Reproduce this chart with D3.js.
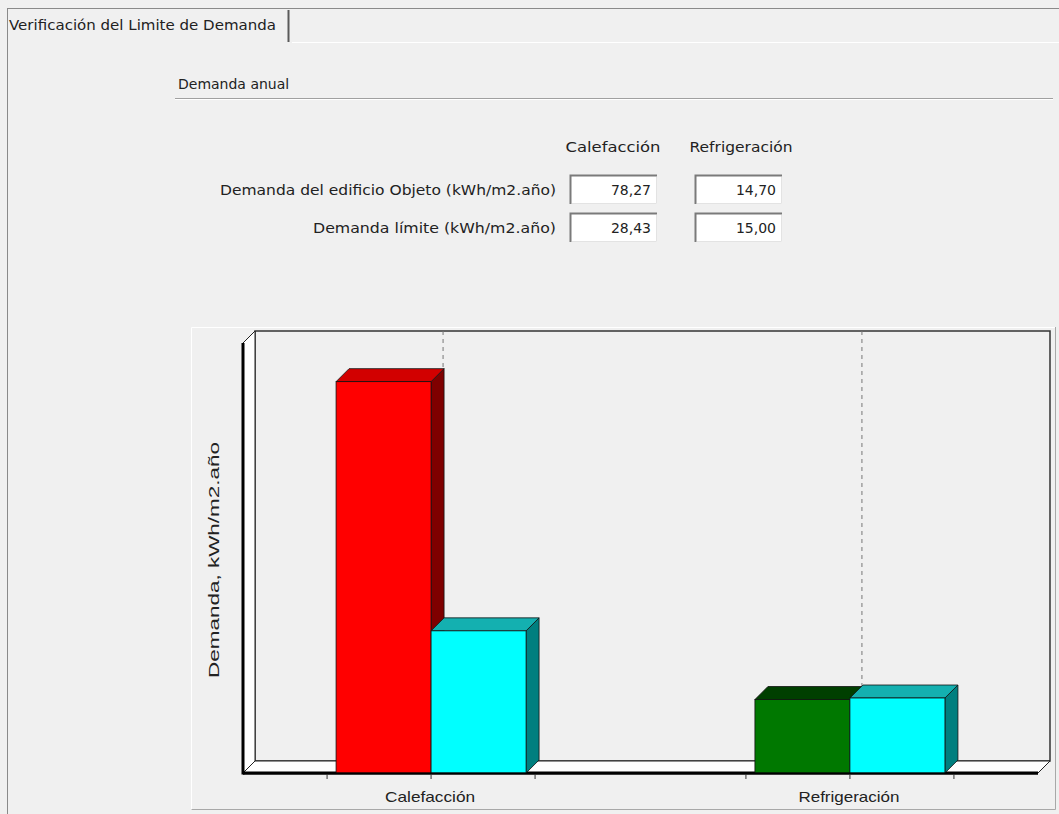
<!DOCTYPE html>
<html>
<head>
<meta charset="utf-8">
<script src="https://cdn.jsdelivr.net/npm/d3@7"></script>
<style>
  html, body { margin: 0; padding: 0; background: #f0f0f0; }
  svg { display: block; }
</style>
</head>
<body>
<svg id="chart" width="1059" height="814"></svg>
<script>
// ---------------- data ----------------
const categories = ["Calefacción", "Refrigeración"];
const demandaObjeto = [78.27, 14.70];
const demandaLimite = [28.43, 15.00];
const rowLabels = ["Demanda del edificio Objeto (kWh/m2.año)", "Demanda límite (kWh/m2.año)"];
const tabTitle = "Verificación del Limite de Demanda";
const groupTitle = "Demanda anual";
const yAxisTitle = "Demanda, kWh/m2.año";
const yDomain = [0, 86];

// ---------------- styles ----------------
const objetoFront = ["#ff0000", "#007800"];
const objetoTop = ["#d20000", "#003f00"];
const objetoSide = ["#7f0000", "#003f00"];
const limiteFront = "#00ffff";
const limiteTop = "#14b0b0";
const limiteSide = "#007f7f";
const uiFont = "'DejaVu Sans', Tahoma, sans-serif";
const chartFont = "'Liberation Sans', Arial, sans-serif";

const locale = d3.formatLocale({decimal: ",", thousands: ".", grouping: [3], currency: ["", "€"]});
const fmt = locale.format(".2f");

const svg = d3.select("#chart");
svg.append("rect").attr("width", 1059).attr("height", 814).attr("fill", "#f0f0f0");

// ---------------- window chrome: tab ----------------
svg.append("line").attr("x1", 7).attr("x2", 1059).attr("y1", 8.5).attr("y2", 8.5).attr("stroke", "#8a8a8a");
svg.append("line").attr("x1", 7.5).attr("x2", 7.5).attr("y1", 8).attr("y2", 814).attr("stroke", "#8a8a8a");
svg.append("line").attr("x1", 288.5).attr("x2", 288.5).attr("y1", 10).attr("y2", 42).attr("stroke", "#5a5a5a").attr("stroke-width", 2);
svg.append("line").attr("x1", 292).attr("x2", 1059).attr("y1", 42.5).attr("y2", 42.5).attr("stroke", "#ffffff");
svg.append("text").attr("x", 9).attr("y", 30).attr("font-family", uiFont).attr("font-size", 13.5)
  .attr("fill", "#222").attr("textLength", 267).attr("lengthAdjust", "spacingAndGlyphs").text(tabTitle);

// group box title
svg.append("text").attr("x", 178).attr("y", 89).attr("font-family", uiFont).attr("font-size", 14)
  .attr("fill", "#222").text(groupTitle);
svg.append("line").attr("x1", 175).attr("x2", 1053).attr("y1", 98.5).attr("y2", 98.5).attr("stroke", "#a0a0a0");
svg.append("line").attr("x1", 175).attr("x2", 1053).attr("y1", 99.5).attr("y2", 99.5).attr("stroke", "#ffffff");

// ---------------- table ----------------
const colCenters = [613, 741];
const colWidths = [95, 103];
const boxLeft = [570, 695];
const boxW = 87;
const rowTop = [175, 213];
const boxH = 29;
const rowLabelWidths = [336, 243];

categories.forEach((c, i) => {
  svg.append("text").attr("x", colCenters[i]).attr("y", 152).attr("text-anchor", "middle")
    .attr("font-family", uiFont).attr("font-size", 14).attr("fill", "#222")
    .attr("textLength", colWidths[i]).attr("lengthAdjust", "spacingAndGlyphs").text(c);
});
const tableRows = [demandaObjeto, demandaLimite];
tableRows.forEach((vals, r) => {
  svg.append("text").attr("x", 556).attr("y", rowTop[r] + 20).attr("text-anchor", "end")
    .attr("font-family", uiFont).attr("font-size", 14).attr("fill", "#222")
    .attr("textLength", rowLabelWidths[r]).attr("lengthAdjust", "spacingAndGlyphs").text(rowLabels[r]);
  vals.forEach((v, i) => {
    const x = boxLeft[i], y = rowTop[r];
    svg.append("rect").attr("x", x).attr("y", y).attr("width", boxW).attr("height", boxH).attr("fill", "#ffffff");
    svg.append("path").attr("d", `M${x + 0.5},${y + boxH} V${y + 0.5} H${x + boxW}`)
      .attr("fill", "none").attr("stroke", "#7a7a7a").attr("stroke-width", 2);
    svg.append("path").attr("d", `M${x + 2},${y + boxH - 0.5} H${x + boxW - 0.5} V${y + 2}`)
      .attr("fill", "none").attr("stroke", "#e3e3e3");
    svg.append("text").attr("x", x + boxW - 6).attr("y", y + 20).attr("text-anchor", "end")
      .attr("font-family", uiFont).attr("font-size", 14).attr("fill", "#222").text(fmt(v));
  });
});

// ---------------- chart panel ----------------
svg.append("path").attr("d", "M191.5,810 V327.5 H1055").attr("fill", "none").attr("stroke", "#ffffff");
svg.append("path").attr("d", "M191.5,809.5 H1055.5 V327").attr("fill", "none").attr("stroke", "#a8a8a8");

const wallDepth = 12;
const barDepth = 13;
const frontLeft = 243, frontRight = 1038;
const y = d3.scaleLinear().domain(yDomain).range([773, 343]);
const x = d3.scalePoint().domain(categories).range([frontLeft, frontRight]).padding(0.449);
const series = ["objeto", "limite"];
const barW = 95;
const x1 = d3.scaleBand().domain(series).range([-barW, barW]);

const y0 = y(0), yTop = y(yDomain[1]);
// back wall
svg.append("rect").attr("x", frontLeft + wallDepth).attr("y", yTop - wallDepth)
  .attr("width", frontRight - frontLeft).attr("height", y0 - yTop)
  .attr("fill", "#f0f0f0").attr("stroke", "#333").attr("stroke-width", 1.5);
// left wall
svg.append("path")
  .attr("d", `M${frontLeft},${yTop} L${frontLeft + wallDepth},${yTop - wallDepth} L${frontLeft + wallDepth},${y0 - wallDepth} L${frontLeft},${y0} Z`)
  .attr("fill", "#ffffff").attr("stroke", "#222").attr("stroke-width", 1);
// floor
svg.append("path")
  .attr("d", `M${frontLeft},${y0} L${frontLeft + wallDepth},${y0 - wallDepth} L${frontRight + wallDepth},${y0 - wallDepth} L${frontRight},${y0} Z`)
  .attr("fill", "#ffffff").attr("stroke", "#222").attr("stroke-width", 1);
// dashed grid lines on back wall
svg.selectAll("line.grid").data(categories).join("line").attr("class", "grid")
  .attr("x1", d => x(d) + wallDepth).attr("x2", d => x(d) + wallDepth)
  .attr("y1", yTop - wallDepth).attr("y2", y0 - wallDepth)
  .attr("stroke", "#777").attr("stroke-dasharray", "4,4");
// thick front edges
svg.append("line").attr("x1", frontLeft).attr("x2", frontLeft).attr("y1", yTop).attr("y2", y0 + 1.5)
  .attr("stroke", "#000").attr("stroke-width", 3);
svg.append("line").attr("x1", frontLeft).attr("x2", frontRight).attr("y1", y0).attr("y2", y0)
  .attr("stroke", "#000").attr("stroke-width", 3);

// bars
function bar3d(g, x0, v, front, top, side) {
  const yt = y(v), w = barW, d = barDepth;
  g.append("path").attr("d", `M${x0 + w},${yt} L${x0 + w + d},${yt - d} L${x0 + w + d},${y0 - d} L${x0 + w},${y0} Z`)
    .attr("fill", side).attr("stroke", "#111").attr("stroke-width", 0.8);
  g.append("path").attr("d", `M${x0},${yt} L${x0 + d},${yt - d} L${x0 + w + d},${yt - d} L${x0 + w},${yt} Z`)
    .attr("fill", top).attr("stroke", "#111").attr("stroke-width", 0.8);
  g.append("rect").attr("x", x0).attr("y", yt).attr("width", w).attr("height", y0 - yt)
    .attr("fill", front).attr("stroke", "#111").attr("stroke-width", 0.8);
}
const barsG = svg.append("g");
categories.forEach((c, i) => {
  bar3d(barsG, x(c) + x1("objeto"), demandaObjeto[i], objetoFront[i], objetoTop[i], objetoSide[i]);
  bar3d(barsG, x(c) + x1("limite"), demandaLimite[i], limiteFront, limiteTop, limiteSide);
});
// redraw front base line over bar bottoms
svg.append("line").attr("x1", frontLeft).attr("x2", frontRight).attr("y1", y0 + 0.5).attr("y2", y0 + 0.5)
  .attr("stroke", "#000").attr("stroke-width", 2);

// x axis ticks and labels
const tickOffsets = [-104, 0, 104];
categories.forEach(c => {
  tickOffsets.forEach(o => {
    svg.append("line").attr("x1", x(c) + o).attr("x2", x(c) + o).attr("y1", y0 + 1).attr("y2", y0 + 6)
      .attr("stroke", "#333");
  });
});
const xLabelW = [90, 101];
categories.forEach((c, i) => {
  svg.append("text").attr("x", x(c) - 1).attr("y", 802).attr("text-anchor", "middle")
    .attr("font-family", chartFont).attr("font-size", 15).attr("fill", "#222")
    .attr("textLength", xLabelW[i]).attr("lengthAdjust", "spacingAndGlyphs").text(c);
});
// y title
svg.append("text").attr("transform", "translate(219,560) rotate(-90)").attr("text-anchor", "middle")
  .attr("font-family", chartFont).attr("font-size", 14).attr("fill", "#222")
  .attr("textLength", 236).attr("lengthAdjust", "spacingAndGlyphs").text(yAxisTitle);
</script>
</body>
</html>
